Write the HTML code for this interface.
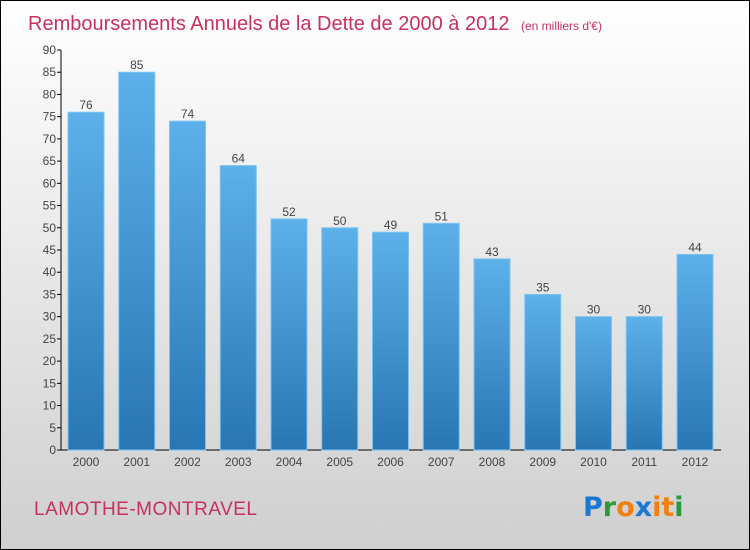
<!DOCTYPE html>
<html><head><meta charset="utf-8"><style>
html,body{margin:0;padding:0}
body{width:750px;height:550px;overflow:hidden;font-family:"Liberation Sans",sans-serif}
#wrap{position:absolute;left:0;top:0;width:748px;height:548px;border:1px solid #000;background:linear-gradient(#ffffff,#cfcfcf)}
</style></head><body>
<div id="wrap">
<svg width="750" height="550" style="position:absolute;left:-1px;top:-1px" id="chart">
<defs><linearGradient id="bg" x1="0" y1="0" x2="0" y2="1"><stop offset="0" stop-color="#5db0ea"/><stop offset="1" stop-color="#2876b4"/></linearGradient></defs>
<text x="28" y="30" font-size="20" fill="#c8305e">Remboursements Annuels de la Dette de 2000 à 2012 <tspan font-size="12" dx="6">(en milliers d'€)</tspan></text>
<text x="34" y="515" font-size="19" fill="#c8305e" letter-spacing="0.5">LAMOTHE-MONTRAVEL</text>
<g font-size="27" font-weight="bold" font-family="'DejaVu Sans',sans-serif">
<text x="583" y="516" fill="#1a78d0">P<tspan fill="#2a9a3a">r</tspan><tspan fill="#f08010">o</tspan><tspan fill="#1a78d0">x</tspan><tspan fill="#f08010">i</tspan><tspan fill="#f08010">t</tspan><tspan fill="#2a9a3a">i</tspan></text>
</g>
<g id="axes"></g><g id="bars"></g>
</svg>
</div>
<script>
const categories=["2000","2001","2002","2003","2004","2005","2006","2007","2008","2009","2010","2011","2012"];
const values=[76,85,74,64,52,50,49,51,43,35,30,30,44];
const yTicks=[0,5,10,15,20,25,30,35,40,45,50,55,60,65,70,75,80,85,90];
const NS="http://www.w3.org/2000/svg";
const y0=450,yTop=50,yMax=90,x0=61;
const y=v=>y0-(v/yMax)*(y0-yTop);
const x=i=>86+i*50.75;
const axes=document.getElementById('axes'),bars=document.getElementById('bars');
function mk(t,a,p){const e=document.createElementNS(NS,t);for(const k in a)e.setAttribute(k,a[k]);p.appendChild(e);return e;}
const ya=mk('line',{x1:x0,y1:yTop,x2:x0,y2:y0,stroke:'#000'},axes);


const xa=mk('line',{x1:x0,y1:y0,x2:721,y2:y0,stroke:'#000'},axes);


yTicks.forEach(v=>{
 mk('line',{x1:x0-4,y1:y(v),x2:x0,y2:y(v),stroke:'#000'},axes);
 const t=mk('text',{x:x0-5,y:y(v)+4,'font-size':12,'text-anchor':'end',fill:'#444'},axes);t.textContent=v;
 
 
});
categories.forEach((c,i)=>{
 const cx=x(i);
 const r=mk('rect',{x:cx-18,y:y(values[i]),width:36,height:y0-y(values[i]),fill:'url(#bg)',stroke:'#7cc4f0','stroke-width':1},bars);
 
 
 const v=mk('text',{x:cx,y:y(values[i])-3,'font-size':12,'text-anchor':'middle',fill:'#444'},bars);v.textContent=values[i];
 
 
 const l=mk('text',{x:cx,y:466,'font-size':12,'text-anchor':'middle',fill:'#444'},axes);l.textContent=c;
 
 
});
</script>
</body></html>
